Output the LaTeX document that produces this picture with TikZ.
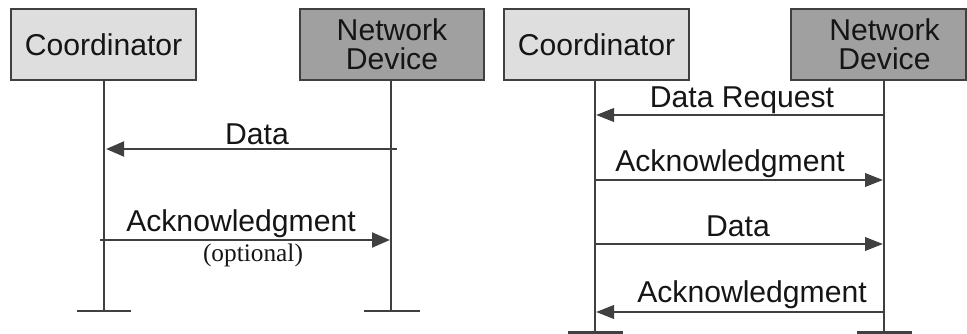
\documentclass[tikz,border=0pt]{standalone}
\usepackage{fontspec}
\setmainfont{Liberation Sans}
\newfontfamily\serifopt{Liberation Serif}
\usetikzlibrary{arrows.meta}
\definecolor{linegray}{HTML}{404040}
\definecolor{coordfill}{HTML}{DEDEDE}
\definecolor{devfill}{HTML}{A0A0A0}
\definecolor{txt}{HTML}{151515}
\tikzset{
  actor/.style={draw=linegray, line width=1.5pt, minimum height=53.25pt, inner sep=0pt,
    align=center, text=txt, font=\fontsize{22.6pt}{21.75pt}\selectfont},
  coordbox/.style={actor, fill=coordfill, minimum width=138.75pt},
  lifeline/.style={draw=linegray, line width=2pt},
  endbar/.style={draw=linegray, line width=2.2pt},
  msgbig/.style={draw=linegray, line width=2.2pt, -{Triangle[length=13.5pt,width=11pt]}},
  msg/.style={draw=linegray, line width=2pt, -{Triangle[length=13.5pt,width=10pt]}},
  lbl/.style={anchor=base, inner sep=0pt, text=txt, font=\fontsize{22.6pt}{22.6pt}\selectfont},
  optlbl/.style={anchor=base, inner sep=0pt, text=txt, font=\serifopt\fontsize{19pt}{19pt}\selectfont},
}
\begin{document}
\begin{tikzpicture}[x=0.75pt,y=-0.75pt]
\useasboundingbox (0,0) rectangle (967,334);
% ---------- left panel ----------
\node[coordbox] (c1) at (103.5,44.5) {Coordinator};
\node[actor, fill=devfill, minimum width=138pt] (d1) at (392,44.5) {Network\\Device};
\coordinate (c1end) at (104,311);
\coordinate (d1end) at (391,311);
\draw[lifeline] (c1.south -| c1end) -- (c1end);
\draw[lifeline] (d1.south -| d1end) -- (d1end);
\coordinate (c1barL) at (77,311); \coordinate (c1barR) at (131,311);
\coordinate (d1barL) at (364,311); \coordinate (d1barR) at (420,311);
\draw[endbar] (c1barL) -- (c1barR);
\draw[endbar] (d1barL) -- (d1barR);
\coordinate (a1s) at (397,149); \coordinate (a1e) at (106,149);
\draw[msgbig] (a1s) -- (a1e);
\node[lbl] (t1) at (257,145) {Data};
\coordinate (a2s) at (100,240); \coordinate (a2e) at (390,240);
\draw[msgbig] (a2s) -- (a2e);
\node[lbl] (t2) at (241,232) {Acknowledgment};
\node[optlbl] (t3) at (253,262) {(optional)};
% ---------- right panel ----------
\node[coordbox] (c2) at (596.5,44.5) {Coordinator};
\node[actor, fill=devfill, minimum width=131.25pt] (d2) at (878.5,44.5) {\hspace*{9pt}Network\\\hspace*{9pt}Device};
\coordinate (c2end) at (595,332);
\coordinate (d2end) at (884,332);
\draw[lifeline] (c2.south -| c2end) -- (c2end);
\draw[lifeline] (d2.south -| d2end) -- (d2end);
\coordinate (c2barL) at (568,332.5); \coordinate (c2barR) at (623,332.5);
\coordinate (d2barL) at (857,332.5); \coordinate (d2barR) at (912,332.5);
\draw[endbar] (c2barL) -- (c2barR);
\draw[endbar] (d2barL) -- (d2barR);
\coordinate (b1s) at (884,115); \coordinate (b1e) at (596,115);
\draw[msg] (b1s) -- (b1e);
\node[lbl] (u1) at (742,108) {Data Request};
\coordinate (b2s) at (595,180); \coordinate (b2e) at (883,180);
\draw[msg] (b2s) -- (b2e);
\node[lbl] (u2) at (730,172) {Acknowledgment};
\coordinate (b3s) at (595,244); \coordinate (b3e) at (883,244);
\draw[msg] (b3s) -- (b3e);
\node[lbl] (u3) at (738,237) {Data};
\coordinate (b4s) at (884,312); \coordinate (b4e) at (596,312);
\draw[msg] (b4s) -- (b4e);
\node[lbl] (u4) at (752,303) {Acknowledgment};
\end{tikzpicture}
\end{document}
